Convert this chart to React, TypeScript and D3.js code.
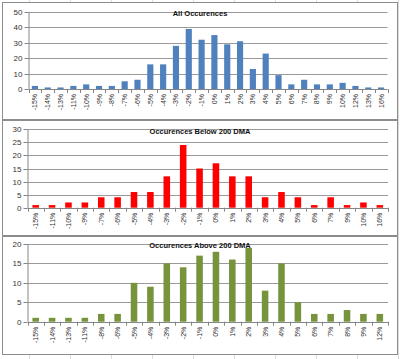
import React from "react";
import * as d3 from "d3";

const allCats = ["-15%","-14%","-13%","-11%","-10%","-9%","-8%","-7%","-6%","-5%","-4%","-3%","-2%","-1%","0%","1%","2%","3%","4%","5%","6%","7%","8%","9%","10%","12%","13%","16%"];
const allVals = [2,1,1,2,3,2,2,5,6,16,16,28,39,32,35,29,31,13,23,9,3,6,3,3,4,2,1,1];

const belowCats = ["-15%","-11%","-10%","-9%","-7%","-6%","-5%","-4%","-3%","-2%","-1%","0%","1%","2%","3%","4%","5%","6%","7%","9%","10%","16%"];
const belowVals = [1,1,2,2,4,4,6,6,12,24,15,17,12,12,4,6,4,1,4,1,2,1];

const aboveCats = ["-15%","-14%","-13%","-11%","-8%","-6%","-5%","-4%","-3%","-2%","-1%","0%","1%","2%","3%","4%","5%","6%","7%","8%","9%","12%"];
const aboveVals = [1,1,1,1,2,2,10,9,15,14,17,18,16,19,8,15,5,2,2,3,2,2];

const allTicks = [0,10,20,30,40,50];
const belowTicks = [0,5,10,15,20,25,30];
const aboveTicks = [0,5,10,15,20];

const panels = [
  { title: "All Occurences", cats: allCats, vals: allVals, ticks: allTicks, max: 50, color: "#4F81BD",
    box: [2, 2, 397, 119], yTop: 12, y0: 89, left: 28.5, right: 387.5, pad: 0.52, titleY: 16 },
  { title: "Occurences Below 200 DMA", cats: belowCats, vals: belowVals, ticks: belowTicks, max: 30, color: "#FF0000",
    box: [2, 120, 397, 235], yTop: 129.3, y0: 207.7, left: 27.5, right: 388, pad: 0.6, titleY: 134 },
  { title: "Occurences Above 200 DMA", cats: aboveCats, vals: aboveVals, ticks: aboveTicks, max: 20, color: "#77933C",
    box: [2, 236, 397, 354], yTop: 244, y0: 321.7, left: 27.5, right: 388, pad: 0.6, titleY: 248 },
];

const font = "Liberation Sans, Arial, sans-serif";

function Panel({ p }: { p: any }) {
  const x = d3.scaleBand<string>().domain(p.cats).range([p.left, p.right]).paddingInner(p.pad).paddingOuter(p.pad / 2);
  const y = d3.scaleLinear().domain([0, p.max]).range([p.y0, p.yTop]);
  const step = x.step();
  const [bx0, by0, bx1, by1] = p.box;
  return (
    <g>
      <rect x={bx0 + 0.5} y={by0 + 0.5} width={bx1 - bx0} height={by1 - by0} fill="#fff" stroke="#8c8c8c" strokeWidth={1} />
      {p.ticks.map((t: number) => (
        <g key={t}>
          {t > 0 && <line x1={p.left} x2={p.right} y1={Math.round(y(t)) + 0.5} y2={Math.round(y(t)) + 0.5} stroke="#9a9a9a" strokeWidth={1} />}
          <line x1={p.left - 4} x2={p.left} y1={Math.round(y(t)) + 0.5} y2={Math.round(y(t)) + 0.5} stroke="#868686" />
          <text x={p.left - 6} y={y(t) + 3} fontSize={8} textAnchor="end" fill="#333" fontFamily={font}>{t}</text>
        </g>
      ))}
      {p.cats.map((c: string, i: number) => (
        <rect key={c} x={x(c)} y={y(p.vals[i])} width={x.bandwidth()} height={p.y0 - y(p.vals[i])} fill={p.color} />
      ))}
      <line x1={p.left + 0.5} x2={p.left + 0.5} y1={p.yTop} y2={p.y0} stroke="#868686" />
      <line x1={p.left} x2={p.right} y1={Math.round(p.y0) + 0.5} y2={Math.round(p.y0) + 0.5} stroke="#868686" />
      {d3.range(p.cats.length + 1).map((i: number) => (
        <line key={i} x1={Math.round(p.left + i * step) + 0.5} x2={Math.round(p.left + i * step) + 0.5} y1={p.y0} y2={p.y0 + 4} stroke="#868686" />
      ))}
      {p.cats.map((c: string) => {
        const cx = (x(c) as number) + x.bandwidth() / 2;
        return (
          <text key={c} transform={`translate(${cx + 2.5},${p.y0 + 5}) rotate(-90)`} fontSize={7} textAnchor="end" fill="#333" fontFamily={font}>{c}</text>
        );
      })}
      <text x={200} y={p.titleY} fontSize={7.5} fontWeight="bold" textAnchor="middle" fill="#111" fontFamily={font}>{p.title}</text>
    </g>
  );
}

export default function App() {
  const vlines = d3.range(0, 11).map((k: number) => 29 + 41 * k);
  return (
    <div style={{ position: "absolute", left: 0, top: 0 }}>
      <svg width={400} height={359} style={{ display: "block" }}>
        <rect width={400} height={359} fill="#fff" />
        {vlines.map((vx: number) => (
          <line key={vx} x1={vx + 0.5} x2={vx + 0.5} y1={0} y2={359} stroke="#dcdcdc" />
        ))}
        {panels.map((p, i) => <Panel key={i} p={p} />)}
      </svg>
    </div>
  );
}
